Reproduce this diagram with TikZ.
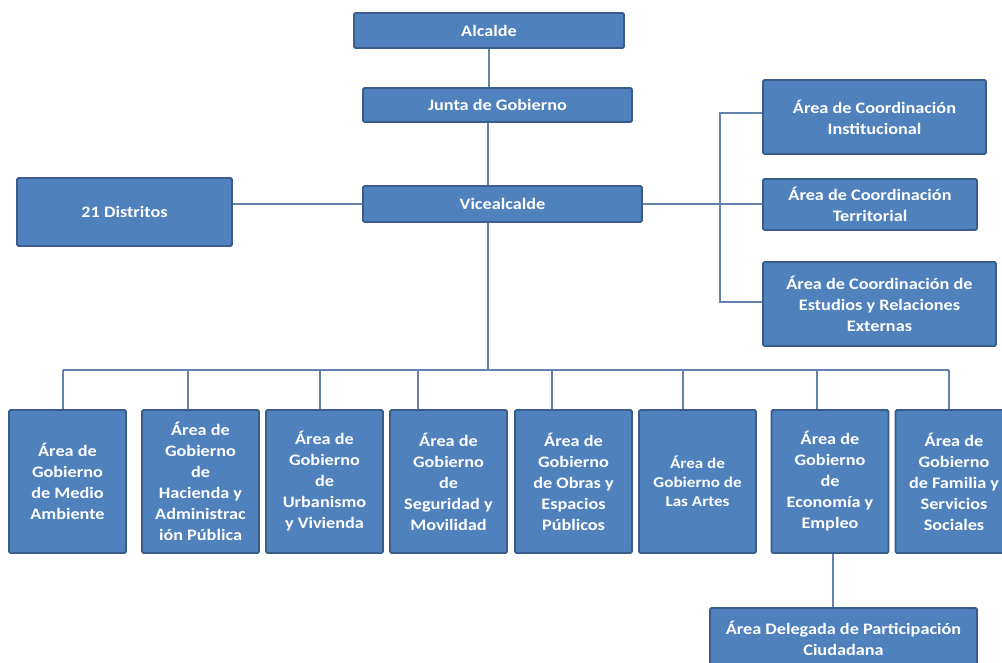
\documentclass[tikz,border=0pt]{standalone}
\usepackage{fontspec}
\setmainfont{Carlito}[FakeStretch=1.14]
\definecolor{boxFill}{HTML}{4F81BD}
\definecolor{boxLine}{HTML}{385D8A}
\definecolor{linkLine}{HTML}{6383AD}
\tikzstyle{orgBox}=[shape = rectangle, draw = boxLine, line width = 1.8pt, fill = boxFill, rounded corners = 1.5pt, text = white, font = \bfseries\fontsize{16}{21}\selectfont, align = center, inner sep = 0pt]
\tikzstyle{areaBox}=[orgBox, minimum width = 117pt, minimum height = 143pt]
\tikzstyle{linkStyle}=[draw = linkLine, line width = 1.2pt]

\begin{document}
\begin{tikzpicture}[x = 1pt, y = -1pt]
\useasboundingbox (0,0) rectangle (1002,663);
\node[orgBox, minimum width = 270pt, minimum height = 35pt] (alc) at (489,30.5) {Alcalde};
\node[orgBox, minimum width = 269pt, minimum height = 34pt] (jun) at (497.5,105) {Junta de Gobierno};
\node[orgBox, minimum width = 279pt, minimum height = 36pt] (vice) at (502.5,204) {Vicealcalde};
\node[orgBox, minimum width = 215pt, minimum height = 68pt] (dis) at (124.5,212) {21 Distritos};
\node[orgBox, minimum width = 223pt, minimum height = 74pt] (ins) at (874.5,117) {Área de Coordinación\\Institucional};
\node[orgBox, minimum width = 214pt, minimum height = 51pt] (ter) at (870,204.5) {Área de Coordinación\\Territorial};
\node[orgBox, minimum width = 233pt, minimum height = 84pt] (est) at (879.5,304) {Área de Coordinación de\\Estudios y Relaciones\\Externas};
\node[areaBox] (ga1) at (67.5,481.5) {Área de\\Gobierno\\de Medio\\Ambiente};
\node[areaBox] (ga2) at (200.5,481.5) {Área de\\Gobierno\\de\\Hacienda y\\Administrac\\ión Pública};
\node[areaBox] (ga3) at (324.5,481.5) {Área de\\Gobierno\\de\\Urbanismo\\y Vivienda};
\node[areaBox] (ga4) at (448.5,481.5) {Área de\\Gobierno\\de\\Seguridad y\\Movilidad};
\node[areaBox] (ga5) at (573.5,481.5) {Área de\\Gobierno\\de Obras y\\Espacios\\Públicos};
\node[areaBox, font = \bfseries\fontsize{15}{19}\selectfont] (ga6) at (697.5,481.5) {Área de\\Gobierno de\\Las Artes};
\node[areaBox] (ga7) at (830,481.5) {Área de\\Gobierno\\de\\Economía y\\Empleo};
\node[areaBox] (ga8) at (954,481.5) {Área de\\Gobierno\\de Familia y\\Servicios\\Sociales};
\node[orgBox, minimum width = 267pt, minimum height = 60pt] (del) at (843.5,638) {Área Delegada de Participación\\Ciudadana};
\coordinate (trunk) at (488,370);
\coordinate (brTop) at (720,113);
\coordinate (brBot) at (720,302);
\coordinate (bus1) at (63,370);
\coordinate (bus2) at (188,370);
\coordinate (bus3) at (320,370);
\coordinate (bus4) at (418,370);
\coordinate (bus5) at (552,370);
\coordinate (bus6) at (683,370);
\coordinate (bus7) at (817,370);
\coordinate (bus8) at (949,370);
\draw[linkStyle] (alc.south) -- (alc.south |- jun.north);
\draw[linkStyle] (trunk |- jun.south) -- (trunk |- vice.north);
\draw[linkStyle] (trunk |- vice.south) -- (trunk);
\draw[linkStyle] (dis.east |- vice.west) -- (vice.west);
\draw[linkStyle] (vice.east) -- (vice.east -| ter.west);
\draw[linkStyle] (brTop -| ins.west) -- (brTop) -- (brBot) -- (brBot -| est.west);
\draw[linkStyle] (bus1) -- (bus8);
\draw[linkStyle] (bus1) -- (bus1 |- ga1.north);
\draw[linkStyle] (bus2) -- (bus2 |- ga2.north);
\draw[linkStyle] (bus3) -- (bus3 |- ga3.north);
\draw[linkStyle] (bus4) -- (bus4 |- ga4.north);
\draw[linkStyle] (bus5) -- (bus5 |- ga5.north);
\draw[linkStyle] (bus6) -- (bus6 |- ga6.north);
\draw[linkStyle] (bus7) -- (bus7 |- ga7.north);
\draw[linkStyle] (bus8) -- (bus8 |- ga8.north);
\draw[linkStyle] (833,0 |- ga7.south) -- (833,0 |- del.north);
\end{tikzpicture}
\end{document}
